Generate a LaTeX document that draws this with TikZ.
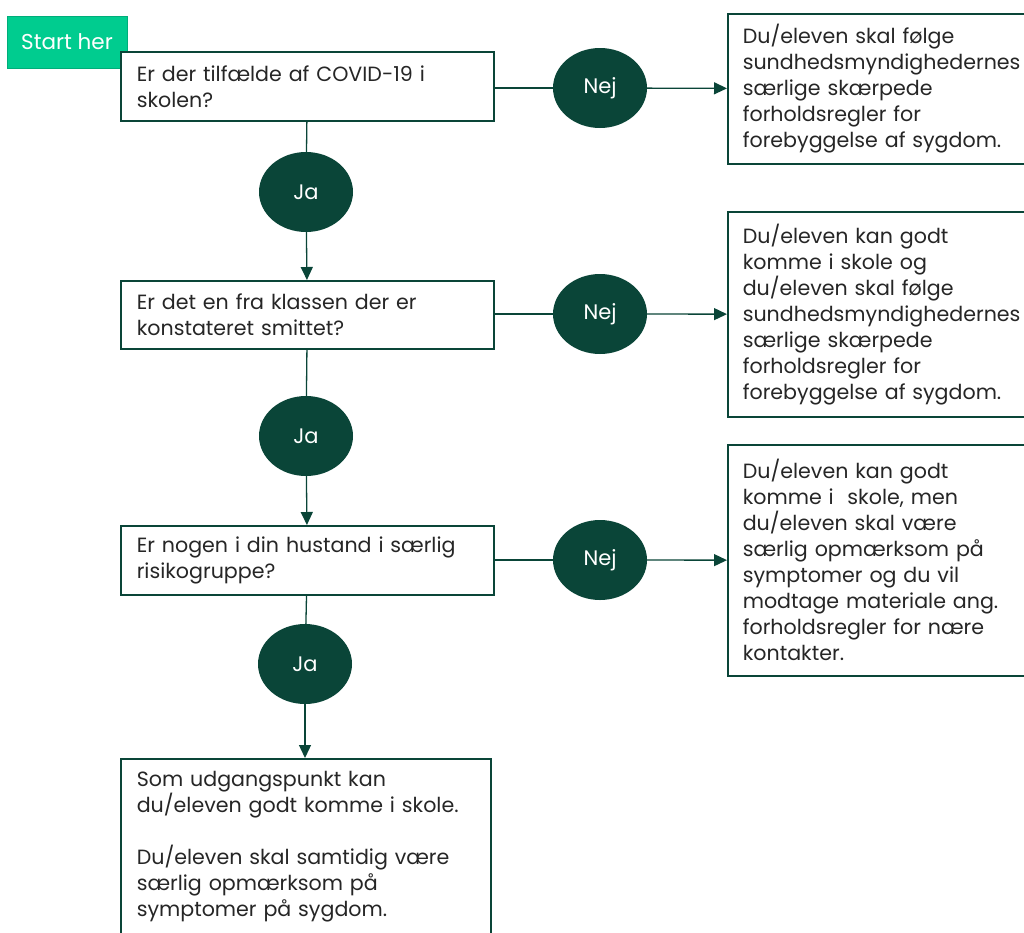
\documentclass[tikz,border=0pt]{standalone}
\usepackage{fontspec}
\setmainfont{Poppins}
\usetikzlibrary{shapes.geometric, arrows.meta}
\definecolor{deepgreen}{HTML}{0A4538}
\definecolor{startgreen}{HTML}{00CC8F}
\definecolor{bodytext}{HTML}{262626}

\begin{document}
\begin{tikzpicture}[x=1pt, y=-1pt,
    every node/.style={font=\fontsize{20.6}{26}\selectfont, text=bodytext},
    question/.style={draw=deepgreen, line width=1.6pt, fill=white, anchor=north west,
      text width=341pt, inner xsep=16pt, inner ysep=0pt, align=left},
    advice/.style={draw=deepgreen, line width=1.6pt, fill=white, anchor=north west,
      text width=290pt, inner xsep=15pt, inner ysep=0pt, align=left},
    answer/.style={ellipse, fill=deepgreen, text=white, minimum width=94pt,
      minimum height=80pt, inner sep=0pt, font=\fontsize{21}{26}\selectfont},
    link/.style={draw=deepgreen, line width=1.3pt},
    flow/.style={link, -{Triangle[length=13pt, width=12pt]}}]
    \useasboundingbox (0,0) rectangle (1024,932);

    % start marker, drawn first so the first question lies over it
    \node[draw=startgreen!85!black, line width=1pt, fill=startgreen, text=white,
      minimum width=120pt, minimum height=52pt, inner sep=0pt,
      font=\fontsize{21.5}{26}\selectfont]
      (start) at (67,42) {Start her};

    % questions
    \node[question, minimum height=69pt] (q1) at (120,51)
      {Er der tilfælde af COVID-19 i\\ skolen?};
    \node[question, minimum height=68pt] (q2) at (120,280)
      {Er det en fra klassen der er\\ konstateret smittet?};
    \node[question, minimum height=69pt] (q3) at (120,525)
      {Er nogen i din hustand i særlig\\ risikogruppe?};
    \node[question, text width=338pt, inner ysep=12pt] (q4) at (120,758)
      {Som udgangspunkt kan\\ du/eleven godt komme i skole.\\[26pt]
       Du/eleven skal samtidig være\\ særlig opmærksom på\\
       symptomer på sygdom.\rule[-16pt]{0pt}{1pt}};

    % answers
    \node[answer] (ja1) at (306,192) {Ja};
    \node[answer] (ja2) at (306,436) {Ja};
    \node[answer] (ja3) at (305,664) {Ja};
    \node[answer] (nej1) at (600,88) {Nej};
    \node[answer] (nej2) at (600,314) {Nej};
    \node[answer] (nej3) at (600,560) {Nej};

    % advice boxes (they run past the right edge)
    \node[advice, minimum height=150pt] (r1) at (727,13)
      {Du/eleven skal følge\\ sundhedsmyndighedernes\\ særlige skærpede\\
       forholdsregler for\\ forebyggelse af sygdom.};
    \node[advice, minimum height=205pt] (r2) at (727,211)
      {Du/eleven kan godt\\ komme i skole og\\ du/eleven skal følge\\
       sundhedsmyndighedernes\\ særlige skærpede\\ forholdsregler for\\
       forebyggelse af sygdom.};
    \node[advice, minimum height=231pt] (r3) at (727,444)
      {Du/eleven kan godt\\ komme i~ skole, men\\ du/eleven skal være\\
       særlig opmærksom på\\ symptomer og du vil\\ modtage materiale ang.\\
       forholdsregler for nære\\ kontakter.};

    % down the Ja path
    \draw[link] (q1) -- (ja1);
    \draw[flow] (ja1) -- (q2);
    \draw[link] (q2) -- (ja2);
    \draw[flow] (ja2) -- (q3);
    \draw[link] (q3) -- (ja3);
    \draw[flow] (ja3) -- (ja3 |- q4.north);

    % across the Nej path
    \draw[link] (nej1 -| q1.east) -- (nej1);
    \draw[flow] (nej1) -- (r1);
    \draw[link] (nej2 -| q2.east) -- (nej2);
    \draw[flow] (nej2) -- (r2);
    \draw[link] (nej3 -| q3.east) -- (nej3);
    \draw[flow] (nej3) -- (r3);
  \end{tikzpicture}
\end{document}
